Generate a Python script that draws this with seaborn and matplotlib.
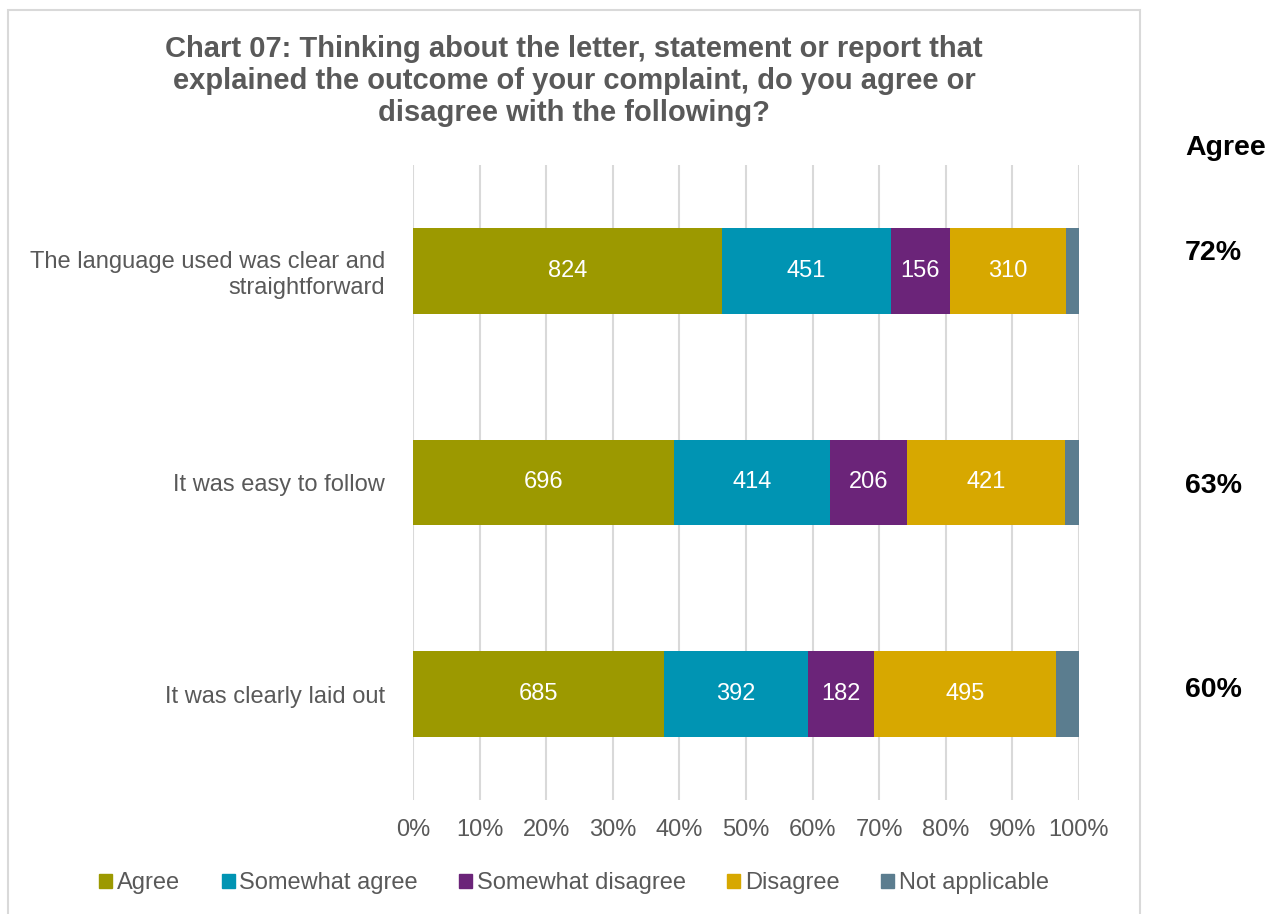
import matplotlib
matplotlib.use("Agg")
import matplotlib.pyplot as plt
import matplotlib.patches as mpatches
import seaborn as sns
import pandas as pd
import numpy as np

categories = ["The language used was clear and\nstraightforward",
              "It was easy to follow",
              "It was clearly laid out"]
series_names = ["Agree", "Somewhat agree", "Somewhat disagree", "Disagree", "Not applicable"]
agree = [824, 696, 685]
somewhat_agree = [451, 414, 392]
somewhat_disagree = [156, 206, 182]
disagree = [310, 421, 495]
not_applicable = [35, 37, 63]
agree_total_labels = ["72%", "63%", "60%"]
xtick_labels = ["0%", "10%", "20%", "30%", "40%", "50%", "60%", "70%", "80%", "90%", "100%"]

colors = ["#9C9900", "#0094B3", "#6B2479", "#D7A800", "#5B7D8F"]
text_gray = "#595959"

sns.set_theme(style="white")
plt.rcParams['font.family'] = ['Liberation Sans', 'DejaVu Sans']

series = [agree, somewhat_agree, somewhat_disagree, disagree, not_applicable]
vals = np.array(series, dtype=float)
totals = vals.sum(axis=0)
pct = vals / totals * 100
cum = np.cumsum(pct, axis=0)

fig = plt.figure(figsize=(12.73, 9.14), dpi=100)
ax = fig.add_axes([413/1273, 1-800/914, (1079-413)/1273, (800-165)/914])

# frame
fig.patches.append(mpatches.Rectangle((8/1273, -0.05), 1132/1273, 1.05-10/914,
                                      transform=fig.transFigure, fill=False,
                                      edgecolor="#D9D9D9", linewidth=1.5, zorder=0))

# stacked via overlay, largest cumulative first
for k in range(len(series_names)-1, -1, -1):
    df = pd.DataFrame({"cat": categories, "val": cum[k]})
    sns.barplot(data=df, x="val", y="cat", orient="h", color=colors[k],
                width=0.405, saturation=1, ax=ax, label=series_names[k],
                linewidth=0, zorder=3)

# segment labels
for k in range(4):
    for i in range(len(categories)):
        left = cum[k][i] - pct[k][i]
        ax.text(left + pct[k][i]/2, i, str(series[k][i]), ha="center", va="center",
                color="white", fontsize=17, zorder=5)

ax.set_xlim(0, 100)
ax.set_ylim(2.5, -0.5)
ax.set_xticks(np.arange(0, 101, 10))
ax.set_xticklabels(xtick_labels)
ax.set_xlabel("")
ax.set_ylabel("")
ax.grid(axis="x", color="#D9D9D9", linewidth=1.5, zorder=0)
ax.set_axisbelow(True)
for s in ax.spines.values():
    s.set_visible(False)
ax.tick_params(axis="x", length=0, pad=14, labelsize=17, labelcolor=text_gray)
ax.tick_params(axis="y", length=0, pad=20, labelsize=17, labelcolor=text_gray)
for t in ax.get_yticklabels():
    t.set_horizontalalignment("right")

# legend
handles = [mpatches.Patch(color=c, label=n) for c, n in zip(colors, series_names)]
if ax.get_legend():
    ax.get_legend().remove()
fig.legend(handles=handles, loc="center", bbox_to_anchor=(574/1273, 1-883/914), ncol=5,
           frameon=False, fontsize=17, handlelength=0.55, handleheight=0.55,
           handletextpad=0.2, columnspacing=1.75, labelcolor=text_gray)

# title
fig.text(574/1273, 1-35/914,
         "Chart 07: Thinking about the letter, statement or report that\n"
         "explained the outcome of your complaint, do you agree or\n"
         "disagree with the following?",
         ha="center", va="top", fontsize=21, fontweight="bold", color=text_gray,
         linespacing=1.19)

# right side agree totals
fig.text(1226/1273, 1-148/914, "Agree", ha="center", va="center", fontsize=20.5,
         fontweight="bold", color="black")
for y, lab in zip([253, 486, 690], agree_total_labels):
    fig.text(1213/1273, 1-y/914, lab, ha="center", va="center", fontsize=20.5,
             fontweight="bold", color="black")

fig.savefig("out.png", dpi=100)
